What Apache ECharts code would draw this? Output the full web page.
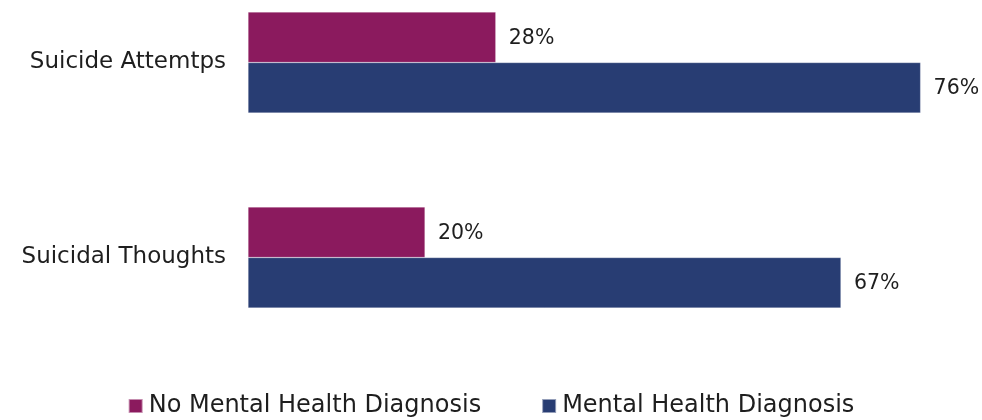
<!DOCTYPE html>
<html><head><meta charset="utf-8">
<script src="https://cdn.jsdelivr.net/npm/echarts@6/dist/echarts.min.js"></script>
<style>html,body{margin:0;padding:0;background:#fff;overflow:hidden;width:982px;height:420px}
#c{position:absolute;left:0;top:-35px;width:982px;height:455px}</style>
</head><body><div id="c"></div>
<script>
const categories = ["Suicide Attemtps", "Suicidal Thoughts"];
const seriesNames = ["No Mental Health Diagnosis", "Mental Health Diagnosis"];
const noDiagnosis = [28, 20];
const withDiagnosis = [76, 67];
const colors = ["#8B1A5E", "#283D73"];
const FONT = "DejaVu Sans";

const chart = echarts.init(document.getElementById('c'));
const mk = (name, data, color) => ({
  name, type: 'bar', data,
  barWidth: 50.5, barGap: '0%',
  itemStyle: { color, borderColor: 'rgba(255,255,255,0.5)', borderWidth: 0.5 },
  label: { show: true, position: 'right', distance: 13, formatter: '{c}%',
    color: '#1e1e1e', fontSize: 20.5, fontFamily: FONT, offset: [0, 1] },
  emphasis: { disabled: true }
});
chart.setOption({
  animation: false,
  textStyle: { fontFamily: FONT },
  grid: { left: 248, right: 26, top: 0, bottom: 65, containLabel: false },
  xAxis: { type: 'value', min: 0, max: 80, show: false },
  yAxis: { type: 'category', data: categories, inverse: true,
    axisLine: { show: false }, axisTick: { show: false },
    axisLabel: { color: '#1e1e1e', fontSize: 23, fontFamily: FONT, margin: 22 } },
  legend: { top: 424, left: 'center', itemWidth: 14, itemHeight: 14, itemGap: 60,
    icon: 'rect', textStyle: { color: '#1e1e1e', fontSize: 24, fontFamily: FONT, padding: [0,0,0,1] },
    data: seriesNames },
  series: [mk(seriesNames[0], noDiagnosis, colors[0]), mk(seriesNames[1], withDiagnosis, colors[1])]
});
</script></body></html>
